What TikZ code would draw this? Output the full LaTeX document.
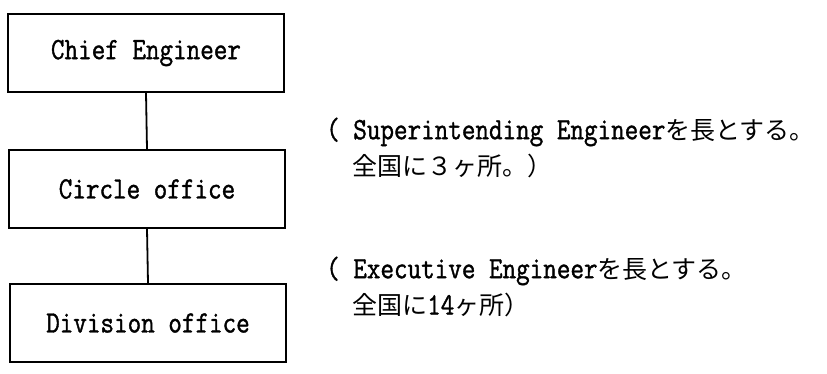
\documentclass[tikz,border=0pt]{standalone}
\usepackage{fontspec}
\setmainfont{Latin Modern Mono}[FakeStretch=0.85,FakeBold=1.2]
\newfontfamily\cjk{Noto Sans CJK JP}
\newcommand{\jp}[1]{{\cjk\fontsize{25}{28}\selectfont #1}}
\begin{document}
\begin{tikzpicture}[x=1pt,y=-1pt,
  box/.style={draw,line width=1.8pt,minimum width=276pt,minimum height=78pt,inner sep=0pt,font=\fontsize{31}{33}\selectfont},
  note/.style={anchor=west,inner sep=0pt,font=\fontsize{31}{33}\selectfont}]
\useasboundingbox (0,0) rectangle (827,373);
\node[box] (chief) at (146,53) {Chief Engineer};
\node[box] (circle) at (147,189) {Circle office};
\node[box] (div) at (148,323) {Division office};
\draw[line width=1.8pt] (chief.south) -- (circle.north);
\draw[line width=1.8pt] (circle.south) -- (div.north);
\node[note] (n1) at (326,132) {( Superintending Engineer\jp{を長とする。}};
\node[note] (n2) at (352,166) {\jp{全国に３ヶ所。）}};
\node[note] (n3) at (326,271) {( Executive Engineer\jp{を長とする。}};
\node[note] (n4) at (352,305) {\jp{全国に}14\jp{ヶ所）}};
\end{tikzpicture}
\end{document}
